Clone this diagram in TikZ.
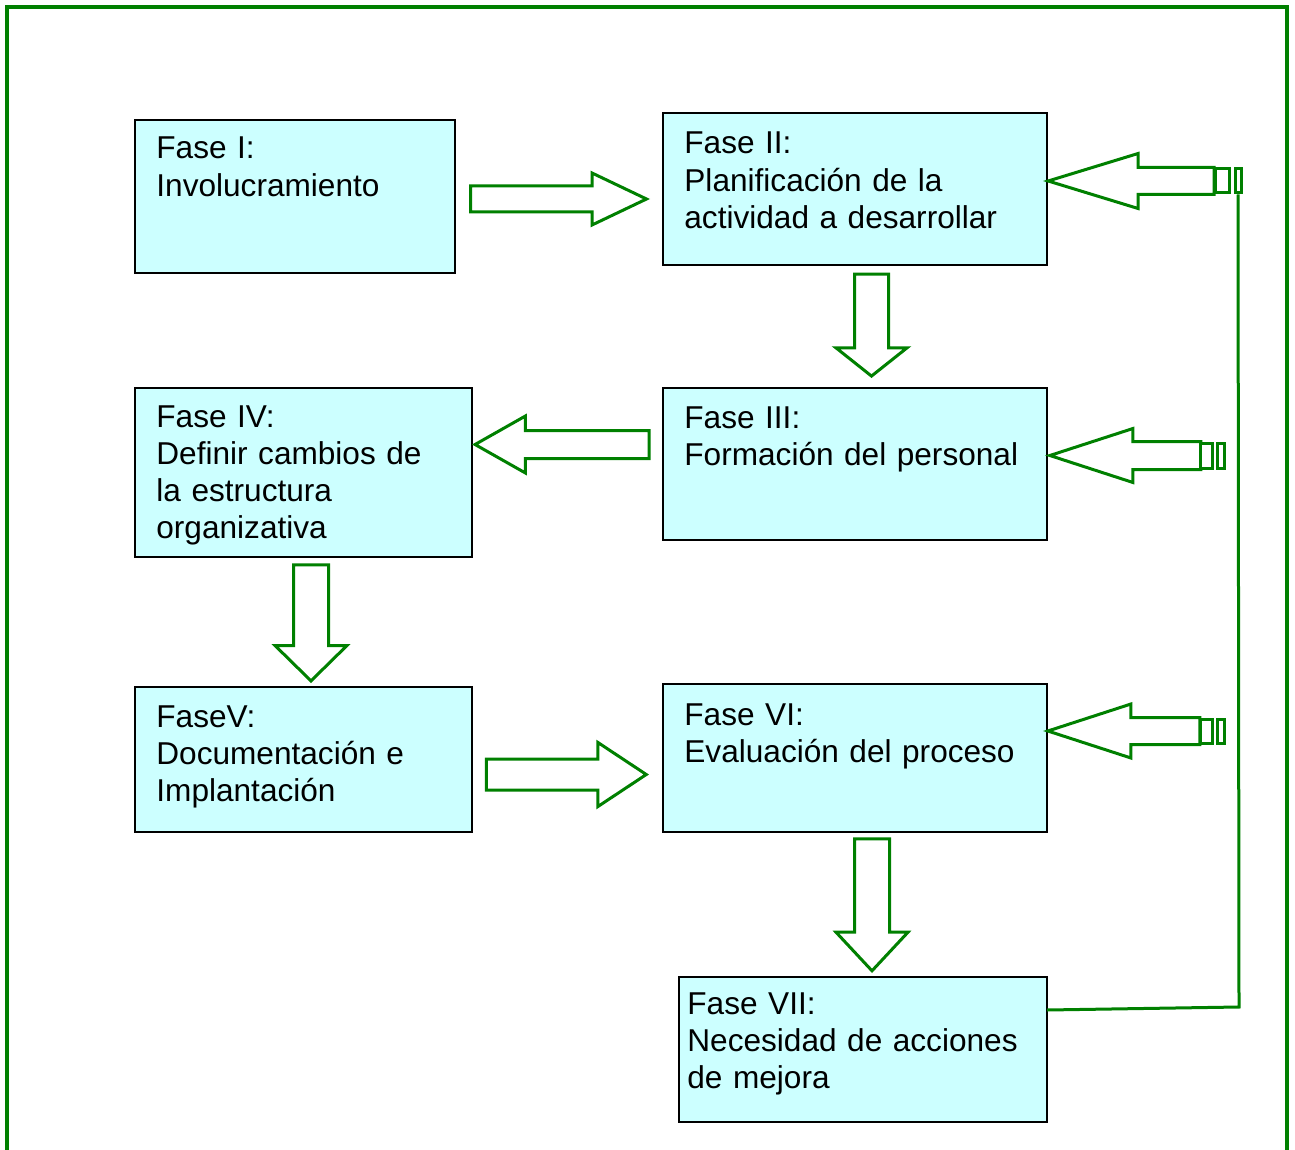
\documentclass[tikz,border=0pt]{standalone}
\usepackage{fontspec}
\setmainfont{Liberation Sans}
\usetikzlibrary{shapes.arrows}

\definecolor{framegreen}{RGB}{0,128,0}
\definecolor{boxcyan}{RGB}{204,255,255}

\tikzset{
  phasebox/.style={draw=black, line width=0.6pt, fill=boxcyan, inner sep=0pt},
  phasetext/.style={anchor=base west, align=left, text width=200pt, inner sep=0pt,
    font=\fontsize{15.8}{18.6}\selectfont},
  blockarrow/.style={single arrow, draw=framegreen, fill=white, line width=1.5pt,
    single arrow head indent=0pt, anchor=tip},
  stripe/.style={draw=framegreen, fill=white, line width=1.5pt, inner sep=0pt},
  frameline/.style={draw=framegreen, line width=2pt},
}

\begin{document}
\begin{tikzpicture}[x=0.5pt, y=-0.5pt]

\useasboundingbox (0,0) rectangle (1295,1150);

% outer frame, open at the bottom
\draw[frameline] (7,1150) -- (7,7) -- (1287,7) -- (1287,1150);


% plot the phases
\node[phasebox, minimum width=160pt, minimum height=76.5pt] (f1) at (295,196.5) {};
\node[phasetext] (t1) at (156,159) {Fase I:\\Involucramiento};

\node[phasebox, minimum width=192pt, minimum height=76pt] (f2) at (855,189) {};
\node[phasetext] (t2) at (684,154) {Fase II:\\Planificación de la\\actividad a desarrollar};

\node[phasebox, minimum width=192pt, minimum height=76pt] (f3) at (855,464) {};
\node[phasetext] (t3) at (684,428) {Fase III:\\Formación del personal};

\node[phasebox, minimum width=168.5pt, minimum height=84.5pt] (f4) at (303.5,472.5) {};
\node[phasetext] (t4) at (156,427) {Fase IV:\\Definir cambios de\\la estructura\\organizativa};

\node[phasebox, minimum width=168.5pt, minimum height=72.5pt] (f5) at (303.5,759.5) {};
\node[phasetext] (t5) at (156,727) {FaseV:\\Documentación e\\Implantación};

\node[phasebox, minimum width=192pt, minimum height=74pt] (f6) at (855,758) {};
\node[phasetext] (t6) at (684,725) {Fase VI:\\Evaluación del proceso};

\node[phasebox, minimum width=184pt, minimum height=72.5pt] (f7) at (863,1049.5) {};
\node[phasetext] (t7) at (687,1014) {Fase VII:\\Necesidad de acciones\\de mejora};


% plot the arrows between phases
\node[blockarrow, minimum height=88pt, inner sep=5.75pt, single arrow head extend=6.5pt,
  single arrow tip angle=51] (a12) at (650,199) {};
\node[blockarrow, minimum height=51pt, inner sep=7.75pt, single arrow head extend=9.25pt,
  single arrow tip angle=103, shape border rotate=270] (a23) at (871.5,378) {};
\node[blockarrow, minimum height=87pt, inner sep=6.25pt, single arrow head extend=7.25pt,
  single arrow tip angle=59, shape border rotate=180] (a34) at (472,444.5) {};
\node[blockarrow, minimum height=58pt, inner sep=8pt, single arrow head extend=9.25pt,
  single arrow tip angle=91, shape border rotate=270] (a45) at (311,683) {};
\node[blockarrow, minimum height=80pt, inner sep=7pt, single arrow head extend=8.25pt,
  single arrow tip angle=67] (a56) at (649,774.5) {};
\node[blockarrow, minimum height=66pt, inner sep=8pt, single arrow head extend=9.25pt,
  single arrow tip angle=86, shape border rotate=270] (a67) at (872,973) {};


% plot the feedback arrows
\node[blockarrow, minimum height=83pt, inner sep=6pt, single arrow head extend=7pt,
  single arrow tip angle=34, shape border rotate=180] (fb2) at (1043,181) {};
\node[stripe, minimum width=7pt, minimum height=12pt] (s2a) at (1222,181) {};
\node[stripe, minimum width=3pt, minimum height=12pt] (s2b) at (1238,181) {};

\node[blockarrow, minimum height=75.5pt, inner sep=6.25pt, single arrow head extend=6.5pt,
  single arrow tip angle=36, shape border rotate=180] (fb3) at (1045,455.5) {};
\node[stripe, minimum width=6pt, minimum height=12.5pt] (s3a) at (1206,455.5) {};
\node[stripe, minimum width=3.5pt, minimum height=12.5pt] (s3b) at (1220.5,455.5) {};

\node[blockarrow, minimum height=76pt, inner sep=6pt, single arrow head extend=6.75pt,
  single arrow tip angle=36, shape border rotate=180] (fb6) at (1043,731) {};
\node[stripe, minimum width=6pt, minimum height=12pt] (s6a) at (1206,731) {};
\node[stripe, minimum width=3.5pt, minimum height=12pt] (s6b) at (1220.5,731) {};


% loop back from the last phase
\coordinate (loopstart) at (1047,1010);
\coordinate (loopcorner) at (1239,1007);
\draw[frameline, line width=1.5pt] (loopstart) -- (loopcorner) -- (s2b.south);


\end{tikzpicture}
\end{document}
